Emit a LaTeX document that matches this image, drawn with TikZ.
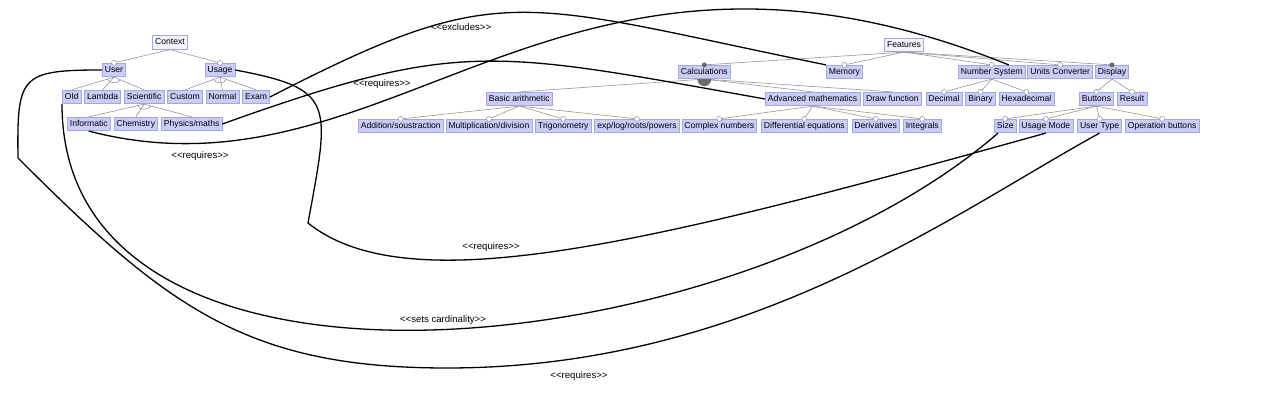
\documentclass[tikz,border=0pt]{standalone}
\usepackage{fontspec}
\setmainfont{Liberation Sans}
\usetikzlibrary{positioning, calc}

\definecolor{featfill}{RGB}{204,204,250}
\definecolor{featline}{RGB}{165,165,225}
\definecolor{rootfill}{RGB}{244,244,255}
\definecolor{edgegray}{RGB}{150,150,150}
\definecolor{dotgray}{RGB}{105,105,105}

\newcommand{\stereo}[1]{<\kern0pt<#1>\kern0pt>}

\begin{document}
\begin{tikzpicture}[
    x=1pt, y=-1pt,
    feat/.style={
        rectangle, draw=featline, fill=featfill, line width=0.6pt,
        inner xsep=2.6pt, inner ysep=2.8pt, text height=6.2pt, text depth=1.8pt,
        font=\fontsize{8.6}{10}\selectfont
    },
    root/.style={feat, fill=rootfill},
    edge/.style={draw=edgegray, line width=0.6pt},
    optdot/.style={circle, draw=edgegray, fill=white, line width=0.5pt, inner sep=0pt, minimum size=5pt},
    manddot/.style={circle, fill=dotgray, inner sep=0pt, minimum size=5pt},
    grpfill/.style={fill=dotgray},
    cons/.style={line width=1.3pt},
    lbl/.style={font=\fontsize{9.6}{11}\selectfont},
]
\useasboundingbox (0,0) rectangle (1262,406);

%% Context tree
\node[root] (context) at (170,42.5) {Context};
\node[feat] (user)  at (114,70) {User};
\node[feat] (usage) at (220,70) {Usage};

\node[feat, anchor=west] (old) at (62,97) {Old};
\node[feat, right=3pt of old]        (lambda)     {Lambda};
\node[feat, right=3pt of lambda]     (scientific) {Scientific};
\node[feat, right=3pt of scientific] (custom)     {Custom};
\node[feat, right=3pt of custom]     (normal)     {Normal};
\node[feat, right=3pt of normal]     (exam)       {Exam};

\node[feat, anchor=west] (informatic) at (67,124) {Informatic};
\node[feat, right=3pt of informatic] (chemistry) {Chemistry};
\node[feat, right=3pt of chemistry]  (physics)   {Physics/maths};

%% Features tree, row 1
\node[root] (features) at (904,45) {Features};
\node[feat, anchor=west] (calc)   at (678,72) {Calculations};
\node[feat, anchor=west] (memory) at (826,72) {Memory};
\node[feat, anchor=west] (numsys) at (958,72) {Number System};
\node[feat, right=2pt of numsys]   (unitconv) {Units Converter};
\node[feat, right=2pt of unitconv] (display)  {Display};

%% Features tree, row 2
\node[feat, anchor=west] (basic)   at (486,99) {Basic arithmetic};
\node[feat, anchor=west] (advmath) at (765,99) {Advanced mathematics};
\node[feat, right=3pt of advmath] (drawfn)  {Draw function};
\node[feat, right=4pt of drawfn]  (decimal) {Decimal};
\node[feat, right=3pt of decimal] (binary)  {Binary};
\node[feat, right=3pt of binary]  (hexa)    {Hexadecimal};
\node[feat, anchor=west] (buttons) at (1079,99) {Buttons};
\node[feat, right=3pt of buttons] (result)  {Result};

%% Features tree, row 3
\node[feat, anchor=west] (addsub) at (358,126) {Addition/soustraction};
\node[feat, right=2pt of addsub]  (muldiv)  {Multiplication/division};
\node[feat, right=3pt of muldiv]  (trigo)   {Trigonometry};
\node[feat, right=3pt of trigo]   (explog)  {exp/log/roots/powers};
\node[feat, right=2pt of explog]  (complex) {Complex numbers};
\node[feat, right=4pt of complex] (diffeq)  {Differential equations};
\node[feat, right=4pt of diffeq]  (deriv)   {Derivatives};
\node[feat, right=3pt of deriv]   (integ)   {Integrals};
\node[feat, anchor=west] (size) at (994,126) {Size};
\node[feat, right=2pt of size]     (usemode)   {Usage Mode};
\node[feat, right=4pt of usemode]  (usertype)  {User Type};
\node[feat, right=3pt of usertype] (opbuttons) {Operation buttons};

%% Context edges
\draw[edge] (context.south) -- (user.north) node[optdot] {};
\draw[edge] (context.south) -- (usage.north) node[optdot] {};
\draw[edge] (user.south) -- (old.north);
\draw[edge] (user.south) -- (lambda.north);
\draw[edge] (user.south) -- (scientific.north);
\draw[edge] ($(user.south)!7pt!(old.north)$) to[bend right=60] ($(user.south)!7pt!(scientific.north)$);
\draw[edge] (usage.south) -- (custom.north);
\draw[edge] (usage.south) -- (normal.north);
\draw[edge] (usage.south) -- (exam.north);
\draw[edge] ($(usage.south)!7pt!(custom.north)$) to[bend right=60] ($(usage.south)!7pt!(exam.north)$);
\draw[edge] (scientific.south) -- (informatic.north);
\draw[edge] (scientific.south) -- (chemistry.north);
\draw[edge] (scientific.south) -- (physics.north);
\draw[edge] ($(scientific.south)!7pt!(informatic.north)$) to[bend right=60] ($(scientific.south)!7pt!(physics.north)$);

%% Features edges
\draw[edge] (features.south) -- (calc.north) node[manddot] {};
\draw[edge] (features.south) -- (memory.north) node[optdot] {};
\draw[edge] (features.south) -- (numsys.north) node[optdot] {};
\draw[edge] (features.south) -- (unitconv.north) node[optdot] {};
\draw[edge] (features.south) -- (display.north) node[manddot] {};

\draw[edge] (calc.south) -- (basic.north);
\draw[edge] (calc.south) -- (advmath.north);
\draw[edge] (calc.south) -- (drawfn.north);
\fill[grpfill] ([xshift=-7pt]calc.south) arc[start angle=180, end angle=360, radius=7pt] -- cycle;

\draw[edge] (basic.south) -- (addsub.north) node[optdot] {};
\draw[edge] (basic.south) -- (muldiv.north) node[optdot] {};
\draw[edge] (basic.south) -- (trigo.north) node[optdot] {};
\draw[edge] (basic.south) -- (explog.north) node[optdot] {};

\draw[edge] (advmath.south) -- (complex.north) node[optdot] {};
\draw[edge] (advmath.south) -- (diffeq.north) node[optdot] {};
\draw[edge] (advmath.south) -- (deriv.north) node[optdot] {};
\draw[edge] (advmath.south) -- (integ.north) node[optdot] {};

\draw[edge] (numsys.south) -- (decimal.north) node[optdot] {};
\draw[edge] (numsys.south) -- (binary.north) node[optdot] {};
\draw[edge] (numsys.south) -- (hexa.north) node[optdot] {};

\draw[edge] (display.south) -- (buttons.north) node[optdot] {};
\draw[edge] (display.south) -- (result.north) node[optdot] {};

\draw[edge] (buttons.south) -- (size.north) node[optdot] {};
\draw[edge] (buttons.south) -- (usemode.north) node[optdot] {};
\draw[edge] (buttons.south) -- (usertype.north) node[optdot] {};
\draw[edge] (buttons.south) -- (opbuttons.north) node[optdot] {};

%% Cross-tree constraints
\draw[cons] (exam.east) .. controls (503,-23) and (517,2) .. (memory.north west);
\draw[cons] (physics.east) .. controls (460,39) and (491,50) .. (advmath.west);
\draw[cons] (informatic.south) .. controls (393,210) and (558,-117) .. ([xshift=17pt]numsys.north);
\draw[cons] (usage.east) .. controls (336,89) and (330,103) .. (308,223)
    .. controls (408,303) and (645,245) .. (usemode.south);
\draw[cons] (old.south west) .. controls (62,436) and (731,365) .. ([xshift=4pt]size.south west);
\draw[cons] (user.west) .. controls (20,70) and (17,76) .. (18,158)
    .. controls (168,308) and (247,368) .. (447,368)
    .. controls (747,368) and (952,214) .. (usertype.south);

%% Constraint labels
\node[lbl] (lexcl) at (461,27)  {\stereo{excludes}};
\node[lbl] (lreqa) at (382,84)  {\stereo{requires}};
\node[lbl] (lreqb) at (200,156) {\stereo{requires}};
\node[lbl] (lreqc) at (491,247) {\stereo{requires}};
\node[lbl] (lcard) at (443,320) {\stereo{sets cardinality}};
\node[lbl] (lreqd) at (579,376) {\stereo{requires}};

\end{tikzpicture}
\end{document}
